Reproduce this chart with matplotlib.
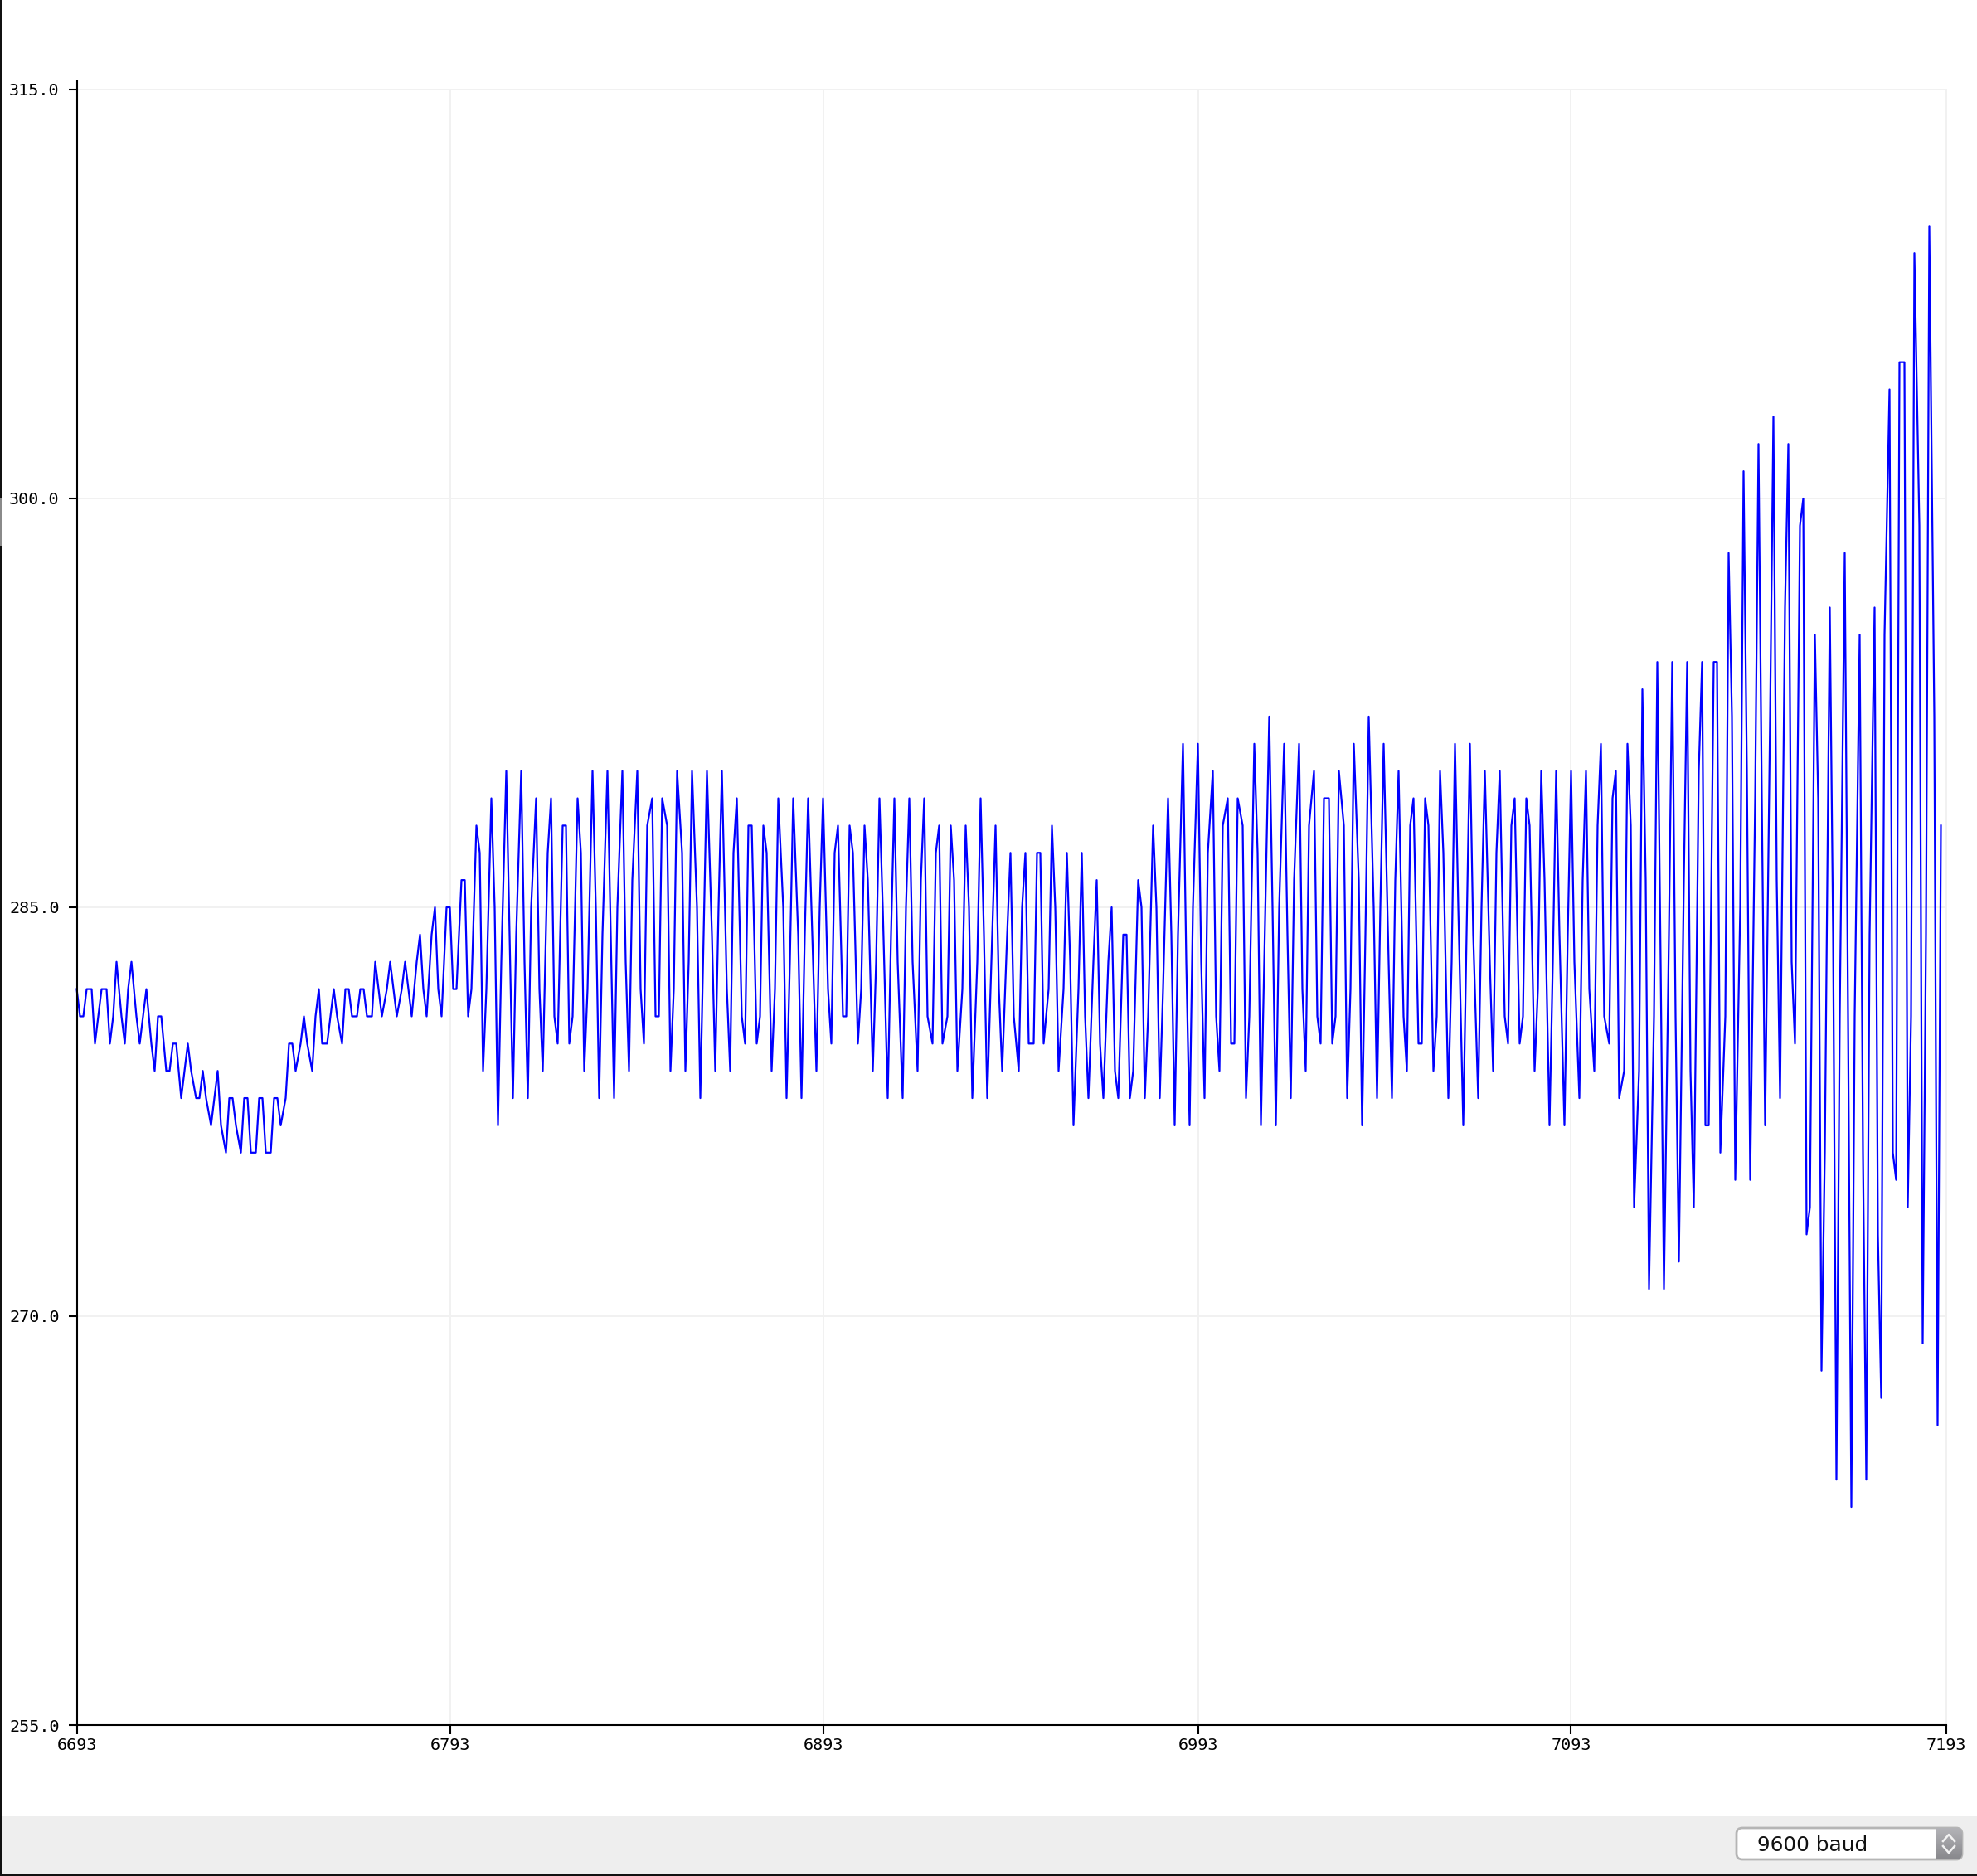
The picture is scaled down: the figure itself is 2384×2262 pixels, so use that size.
#!/usr/bin/env python3
import numpy as np
import matplotlib
matplotlib.use("Agg")
import matplotlib.pyplot as plt
from matplotlib.colors import LinearSegmentedColormap
from matplotlib.patches import FancyBboxPatch, Rectangle

W, H = 2384, 2262

# serial readings, one per sample, split up
part1 = [282,281,281,282,282,280,281,282,282,280,281,283,281,280,282,283,281,280,281,282,280,279,281,281,279,279,280,280,278,279,280,279,278,278,279,278,277,278,279,277,276,278,278,277,276,278,278,276,276,278,278,276,276,278,278,277,278,280,280,279,280,281,280]
part2 = [279,281,282,280,280,281,282,281,280,282,282,281,281,282,282,281,281,283,282,281,282,283,282,281,282,283,282,281,283,284,282,281,284,285,282,281,285,285,282,282,286,286,281,282,288,287,279,282,289,285,277,283,290,284,278,284,290,283,278,285,289,282,279,287,289]
part3 = [281,280,288,288,280,281,289,287,279,282,290,285,278,284,290,284,278,285,290,283,279,286,290,282,280,288,289,281,281,289,288,279,282,290,287,279,283,290,285,278,284,290,284,279,285,290,282,279,287,289,281,280,288,288,280,281,288,287,279,282,289,285,278,283,289]
part4 = [284,278,284,289,283,279,285,289,282,280,287,288,281,281,288,287,280,282,288,286,279,283,289,285,278,284,289,283,278,285,289,283,279,286,289,281,280,287,288,280,281,288,286,279,282,288,285,278,283,289,284,278,284,288,282,279,284,287,281,279,285,287,280,280,287]
part5 = [287,280,282,288,285,279,282,287,283,277,282,287,281,278,283,286,280,278,283,285,279,278,284,284,278,279,286,285,278,281,288,285,278,282,289,284,277,284,291,283,277,285,291,283,278,287,290,281,279,288,289,280,280,289,288,278,281,291,287,277,283,292]
part6 = [285,277,285,291,284,278,286,291,282,279,288,290,281,280,289,289,280,281,290,288,278,282,291,286,277,284,292,285,278,285,291,283,278,286,290,281,279,288,289,280,280,289,288,279,281,290,287,278,283,291,285,277,284,291,284,278,285,290,283,279,287,290,281,280,288,289]
part7 = [280,281,289,288,279,282,290,286,277,283,290,284,277,284,290,283,278,286,290,282,279,288,291,281,280,289,290,278,279,291,288,274,279,293,286,271,281,294,283,271]
part8 = [284,294,281,272,286,294,279,274,290,294,277,277,294,294,276,281,298,292,275,285,301,290,275,289,302,289,277,292,303,286,278,296,302,283,280]
part9 = [299,300,273,274,295,289,268,276,296,284,264,281,298,281,263,281,295,276,264,284,296,273,267,295,304,276,275,305,305,274,281,309,299,269,284,310,292,266,288]

x_ticks = [6693, 6793, 6893, 6993, 7093, 7193]
y_ticks = [255.0, 270.0, 285.0, 300.0, 315.0]
baud_label = "9600 baud"

values = part1 + part2 + part3 + part4 + part5 + part6 + part7 + part8 + part9

# the plotter rounds x to whole screen points, this gives the uneven spacing
per_sample = 2.254


def snap(x):
    return x_ticks[0] + np.floor((np.asarray(x) - x_ticks[0]) * per_sample + 1e-9) / per_sample


xs = snap(x_ticks[0] + np.arange(len(values)))
x_tick_pos = snap(x_ticks)

fig = plt.figure(figsize=(W / 100, H / 100), dpi=100, facecolor="white")

left, right, bottom, top = 92.5, 2346.5, 2080, 98
ax = fig.add_axes([left / W, 1 - bottom / H, (right - left) / W, (bottom - top) / H])
ax.set_xlim(6693, 7193)
ax.set_ylim(255, 315 + 10 / 32.87)
ax.patch.set_alpha(0)

for x in x_tick_pos[1:]:
    ax.plot([x, x], [255, 315], color="#f1f1f1", lw=1.44, zorder=1, clip_on=False)
for y in y_ticks[1:]:
    ax.plot([6693, 7193], [y, y], color="#f1f1f1", lw=1.44, zorder=1, clip_on=False)

ax.plot(xs, values, color="#0000ff", lw=1.6, solid_joinstyle="round", zorder=3, clip_on=False)

for side in ["top", "right"]:
    ax.spines[side].set_visible(False)
for side in ["left", "bottom"]:
    ax.spines[side].set_linewidth(1.5)
    ax.spines[side].set_zorder(4)

ax.set_xticks(x_tick_pos)
ax.set_xticklabels([str(t) for t in x_ticks], family="DejaVu Sans Mono", fontsize=14.5)
ax.set_yticks(y_ticks)
ax.set_yticklabels([f"{t:.1f}" for t in y_ticks], family="DejaVu Sans Mono", fontsize=14.5)
ax.tick_params(axis="x", direction="out", length=8, width=1.5, pad=3, color="black")
ax.tick_params(axis="y", direction="out", length=7.5, width=1.5, pad=7.5, color="black")
ax.set_yticks(y_ticks, minor=True)
ax.tick_params(axis="y", which="minor", direction="in", length=3.2, width=1.5)

# window parts: status bar, border and baud selector
ui = fig.add_axes([0, 0, 1, 1], zorder=5)
ui.patch.set_alpha(0)
ui.add_patch(Rectangle((0, 2190), W, 72, color="#eeeeee", lw=0))
ui.add_patch(Rectangle((0, 0), 2, H, color="#111111", lw=0))
ui.add_patch(Rectangle((0, 600), 2, 58, color="#8a8a8a", lw=0, zorder=2))
ui.add_patch(Rectangle((0, 2260), W, 2, color="#111111", lw=0))

box = FancyBboxPatch((2094, 2204), 272, 38, boxstyle="round,pad=0,rounding_size=7",
                     fc="white", ec="#b5b5b5", lw=2)
ui.add_patch(box)
grad = np.linspace(0, 1, 40).reshape(-1, 1)
cmap = LinearSegmentedColormap.from_list("knob", ["#b4b4b8", "#87878b"])
img = ui.imshow(grad, extent=(2334, 2367, 2243, 2203), cmap=cmap, aspect="auto", zorder=3)
clip = FancyBboxPatch((2094, 2204), 272, 38, boxstyle="round,pad=0,rounding_size=7", transform=ui.transData)
img.set_clip_path(clip)
ui.set_xlim(0, W)
ui.set_ylim(H, 0)
ui.axis("off")
ui.plot([2343, 2350, 2357], [2220, 2212, 2220], color="#f2f2f2", lw=1.8, zorder=4)
ui.plot([2343, 2350, 2357], [2226, 2234, 2226], color="#f2f2f2", lw=1.8, zorder=4)
ui.text(2119, 2224.5, baud_label, fontsize=17.8, family="DejaVu Sans", va="center", ha="left", color="#111111", zorder=4)

fig.savefig("out.png", dpi=100)
